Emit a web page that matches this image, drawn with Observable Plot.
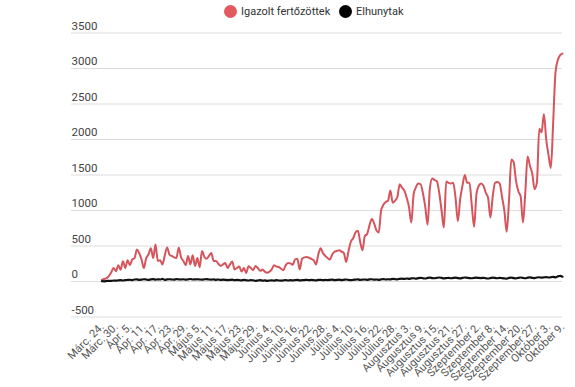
<!DOCTYPE html>
<html>
<head>
<meta charset="utf-8">
<script src="https://cdn.jsdelivr.net/npm/d3@7"></script>
<script src="https://cdn.jsdelivr.net/npm/@observablehq/plot@0.6"></script>
<style>
  body { margin: 0; background: #fff; font-family: Roboto, "Noto Sans", sans-serif; }
  #legend { position: relative; height: 19px; font-size: 11px; color: #333; }
  .item { position: absolute; top: 5px; height: 13px; display: flex; align-items: center; white-space: nowrap; }
  .dot { width: 13px; height: 13px; border-radius: 50%; margin-right: 4px; flex: none; }
  #chart svg { display: block; }
</style>
</head>
<body>
<div id="legend"></div>
<div id="chart"></div>
<script>
const seriesNames = ["Igazolt fertőzöttek", "Elhunytak"];
const seriesColors = ["#d6545b", "#111111"];
const legendColors = ["#e05a5f", "#000000"];

const tickLabels = [
  "Márc. 24.", "Márc. 30.", "Ápr. 5.", "Ápr. 11.", "Ápr. 17.", "Ápr. 23.", "Ápr. 29.",
  "Május 5.", "Május 11.", "Május 17.", "Május 23.", "Május 29.",
  "Június 4.", "Június 10.", "Június 16.", "Június 22.", "Június 28.",
  "Július 4.", "Július 10.", "Július 16.", "Július 22.", "Július 28.",
  "Augusztus 3.", "Augusztus 9.", "Augusztus 15.", "Augusztus 21.", "Augusztus 27.",
  "Szeptember 2.", "Szeptember 8.", "Szeptember 14.", "Szeptember 20.", "Szeptember 27.",
  "Október 3.", "Október 9."
];
const tickStep = 6;
const yTicks = [-500, 0, 500, 1000, 1500, 2000, 2500, 3000, 3500];

const confirmed = [
  24, 35, 48, 80, 130, 190, 145, 230, 165, 285,
  190, 300, 230, 310, 330, 450, 400, 310, 190, 330,
  380, 470, 330, 520, 290, 300, 240, 370, 480, 380,
  360, 340, 330, 480, 340, 290, 230, 360, 240, 370,
  220, 330, 200, 430, 350, 320, 360, 400, 290, 290,
  250, 220, 240, 260, 190, 240, 280, 170, 190, 210,
  140, 190, 120, 215, 190, 160, 220, 190, 150, 170,
  140, 125, 140, 170, 230, 210, 205, 180, 160, 230,
  260, 255, 235, 310, 320, 170, 320, 340, 345, 335,
  320, 300, 240, 380, 470, 400, 360, 330, 310, 380, 420,
  430, 440, 420, 400, 275, 430, 560, 610, 690, 715,
  560, 440, 640, 670, 790, 880, 820, 720, 690, 1000,
  1080, 1120, 1140, 1280, 1110, 1140, 1190, 1370, 1320, 1280,
  1180, 1050, 830, 1230, 1330, 1380, 1370, 1240, 1050, 800,
  1320, 1450, 1430, 1410, 1250, 1000, 760, 1410, 1390, 1380,
  1390, 1180, 850, 1160, 1350, 1500, 1390, 1390, 1070, 770,
  1230, 1350, 1380, 1350, 1250, 1180, 900, 1200, 1390, 1400,
  1380, 1190, 1000, 700, 1140, 1720, 1680, 1420, 1270, 1200,
  830, 1250, 1760, 1630, 1520, 1300, 1400, 2150, 2100, 2360,
  2000, 1780, 1600, 2250, 2950, 3120, 3190, 3210
];

const deaths = [
  5, 3, 7, 10, 8, 14, 12, 16, 18, 14, 20,
  22, 25, 18, 28, 30, 24, 26, 32, 28, 22, 30, 34, 26, 30, 28, 36, 24, 30, 32, 28,
  26, 34, 30, 28, 32, 26, 30, 35, 28, 30,
  32, 28, 26, 30, 34, 28, 26, 30, 24, 28, 22, 26, 24, 20, 22, 26, 18, 22, 20, 16,
  22, 18, 14, 20, 16, 10, 14, 18, 12, 15,
  10, 14, 16, 12, 18, 14, 12, 16, 20, 14, 18, 16, 20, 22, 16, 18, 20, 24, 18, 22,
  20, 16, 22, 24, 18, 22, 20, 24, 26, 20,
  22, 26, 20, 24, 28, 22, 18, 24, 26, 30, 22, 26, 28, 24, 30, 32, 26, 28, 24, 30,
  34, 28, 32, 30, 36, 34, 30, 38, 40, 36,
  42, 38, 44, 46, 40, 48, 52, 46, 42, 50, 54, 48, 46, 52, 56, 50, 44, 48, 52, 46,
  50, 54, 48, 44, 50, 56, 52, 48, 46, 52,
  54, 50, 48, 52, 46, 42, 48, 54, 50, 46, 52, 48, 44, 40, 50, 54, 48, 44, 52, 56,
  50, 46, 54, 58, 52, 48, 56, 60, 54, 58, 62, 56, 60, 66, 58, 72, 80, 68
];

// legend
const legend = document.getElementById("legend");
const legendLefts = [224, 339];
seriesNames.forEach((name, i) => {
  const it = document.createElement("div");
  it.className = "item";
  it.style.left = legendLefts[i] + "px";
  it.innerHTML = `<span class="dot" style="background:${legendColors[i]}"></span><span>${name}</span>`;
  legend.appendChild(it);
});

const rows = confirmed.map((v, i) => ({i, v}));
const rowsD = deaths.map((v, i) => ({i, v}));
const tickIdx = tickLabels.map((_, k) => k * tickStep);

const chart = Plot.plot({
  width: 575,
  height: 368,
  marginLeft: 71,
  marginRight: 13,
  marginTop: 13.5,
  marginBottom: 70.5,
  style: {fontFamily: "Roboto, 'Noto Sans', sans-serif", background: "#fff", overflow: "visible"},
  x: {domain: [0, (tickLabels.length - 1) * tickStep], insetLeft: 30.5},
  y: {domain: [yTicks[0], yTicks[yTicks.length - 1]]},
  marks: [
    Plot.gridY(yTicks, {stroke: "#dcdcdc", strokeOpacity: 1}),
    Plot.axisY(yTicks, {tickSize: 0, tickPadding: 0, textAnchor: "start", dy: -7, fontSize: 11.5, fill: "#444", label: null, tickFormat: d => String(d)}),
    Plot.axisX(tickIdx, {tickFormat: d => tickLabels[d / tickStep], tickRotate: -45, tickSize: 0, tickPadding: 8, fontSize: 11, fill: "#555", label: null}),
    Plot.lineY(rows, {x: "i", y: "v", stroke: seriesColors[0], strokeWidth: 2, curve: "monotone-x"}),
    Plot.lineY(rowsD, {x: "i", y: "v", stroke: seriesColors[1], strokeWidth: 2.2, curve: "monotone-x"})
  ]
});
document.getElementById("chart").appendChild(chart);
</script>
</body>
</html>
